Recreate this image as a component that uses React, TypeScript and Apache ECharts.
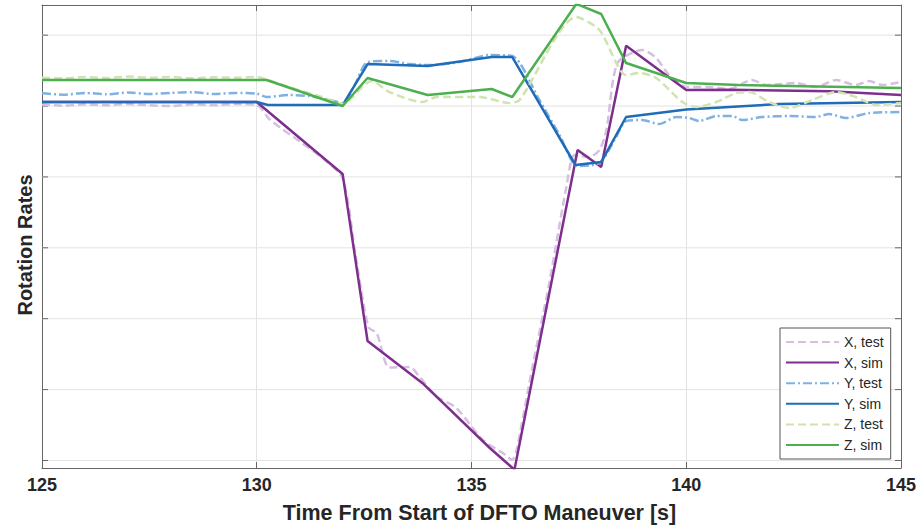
import React, { useEffect, useRef } from "react";
import * as echarts from "echarts";

// ---- data ----
const xMin = 125;
const xMax = 145;
const xInterval = 5;
const yMin = -51.06;
const yMax = 14.25;
const yGridValues = [-50, -40, -30, -20, -10, 0, 10];

const seriesNames = ["X, test", "X, sim", "Y, test", "Y, sim", "Z, test", "Z, sim"];

const xTest: number[][] = [
  [125, 0.2], [125.5, 0.05], [126, 0.25], [126.5, 0.1], [127, 0.3], [127.5, 0.1], [128, 0.0],
  [128.5, 0.25], [129, 0.1], [129.5, 0.3], [130, 0.15], [130.3, -1.9], [131, -5.0], [131.5, -7.2],
  [132, -10.2], [132.3, -21], [132.6, -31.2], [132.79, -32.0], [133.09, -36.9], [133.56, -36.8],
  [133.79, -38.2], [134.19, -41], [134.65, -42.6], [135.26, -47.1], [135.72, -48.9], [135.95, -49.9],
  [136.05, -48.5], [136.42, -36.8], [136.81, -25], [137.21, -11.4], [137.4, -6.9], [137.74, -7.2],
  [137.98, -6.2], [138.14, -3.4], [138.4, 6.06], [138.98, 7.9], [139.3, 6.77], [139.6, 4.37],
  [140, 2.68], [140.5, 2.7], [141.0, 2.4], [141.53, 3.67], [141.86, 2.96], [142.2, 3.1], [142.56, 3.24],
  [143.02, 2.68], [143.49, 3.67], [143.95, 2.96], [144.26, 3.53], [144.56, 2.96], [145, 3.39],
];

const xSim: number[][] = [
  [125, 0.56], [130, 0.56], [132.0, -9.6], [132.58, -33.15], [133.86, -39.1], [135.42, -48.2],
  [136.0, -51.3], [137.47, -6.2], [138.02, -8.6], [138.6, 8.5], [140.0, 2.26], [141.0, 2.3],
  [143.33, 2.1], [145, 1.55],
];

const yTest: number[][] = [
  [125, 1.8], [125.5, 1.6], [126, 1.85], [126.5, 1.65], [127, 1.9], [127.5, 1.7], [128, 1.85],
  [128.5, 1.95], [129, 1.7], [129.5, 1.85], [130, 1.75], [130.23, 1.27], [130.77, 1.55], [131.23, 1.4],
  [131.7, 0.85], [132, 0.42], [132.28, 2.96], [132.58, 6.2], [133.09, 6.35], [133.56, 5.92],
  [134.02, 5.78], [134.72, 6.2], [135.42, 7.19], [135.95, 7.05], [136.58, 0.85], [137.05, -4.1],
  [137.47, -8.46], [137.98, -8.04], [138.33, -4.8], [138.6, -2.12], [138.98, -1.97], [139.37, -2.54],
  [139.77, -1.55], [140.07, -1.69], [140.3, -2.12], [140.7, -1.41], [141.07, -1.41], [141.3, -1.97],
  [141.77, -1.55], [142.4, -1.41], [143.02, -1.55], [143.33, -1.13], [143.72, -1.69], [144.26, -0.99],
  [145, -0.85],
];

const ySim: number[][] = [
  [125, 0.56], [130, 0.56], [130.26, 0.14], [132.0, 0.14], [132.58, 5.92], [133.98, 5.64],
  [135.47, 6.91], [135.95, 6.91], [137.42, -8.32], [138.02, -7.9], [138.6, -1.55], [140.0, -0.5],
  [141.0, -0.14], [142.16, 0.28], [145, 0.56],
];

const zTest: number[][] = [
  [125, 4.0], [125.5, 3.9], [126, 4.1], [126.5, 3.95], [127, 4.15], [127.5, 4.0], [128, 4.1],
  [128.5, 3.9], [129, 4.05], [129.5, 4.0], [130, 4.1], [130.3, 3.6], [131, 2.2], [131.5, 1.3],
  [132, 0.3], [132.67, 3.53], [133.09, 1.97], [133.86, 0.56], [134.19, 1.27], [135.19, 1.27],
  [135.88, 0.42], [136.12, 0.85], [137.44, 12.55], [137.98, 10.72], [138.6, 4.37], [138.91, 4.65],
  [139.3, 3.95], [139.91, 0.56], [140.23, -0.14], [140.7, 0.56], [141.16, 1.83], [141.47, 1.97],
  [141.93, 0.56], [142.4, -0.28], [142.93, 0.85], [143.49, 1.97], [143.95, 1.27], [144.42, 0.14],
  [145, 0.42],
];

const zSim: number[][] = [
  [125, 3.67], [130.23, 3.67], [132.0, 0.0], [132.58, 3.95], [133.98, 1.55], [135.47, 2.4],
  [135.95, 1.27], [137.44, 14.4], [138.02, 12.98], [138.6, 6.06], [140.0, 3.24], [141.23, 2.96],
  [145, 2.54],
];

const seriesData = [xTest, xSim, yTest, ySim, zTest, zSim];
const seriesColors = ["#d6bfe0", "#7e2f8e", "#80b1e3", "#1f6cb9", "#cfe4ae", "#4daf50"];
const seriesDash: any[] = [[8, 4], "solid", [9, 3, 2, 3], "solid", [8, 4], "solid"];
const seriesSmooth = [0.25, false, 0.25, false, 0.25, false];

const FONT = "'Liberation Sans', Arial, sans-serif";
const AXIS_COLOR = "#666";
const GRID_COLOR = "#e3e3e3";

export default function App() {
  const ref = useRef<HTMLDivElement>(null);

  useEffect(() => {
    if (!ref.current) return;
    const chart = echarts.init(ref.current, null, { renderer: "svg" });

    const lineSeries = seriesNames.map((name, i) => ({
      name,
      type: "line",
      data: seriesData[i],
      xAxisIndex: 0,
      yAxisIndex: 0,
      showSymbol: false,
      symbol: "none",
      smooth: seriesSmooth[i],
      clip: true,
      z: 3,
      color: seriesColors[i],
      lineStyle: { color: seriesColors[i], width: 2.5, type: seriesDash[i] },
    }));

    const gridSeries = {
      type: "custom",
      silent: true,
      z: 1,
      xAxisIndex: 0,
      yAxisIndex: 0,
      data: yGridValues.map((v) => [xMin, v]),
      encode: { x: 0, y: 1 },
      renderItem: (_params: any, api: any) => {
        const v = api.value(1);
        const a = api.coord([xMin, v]);
        const b = api.coord([xMax, v]);
        return {
          type: "group",
          children: [
            {
              type: "line",
              shape: { x1: a[0], y1: a[1], x2: b[0], y2: b[1] },
              style: { stroke: GRID_COLOR, lineWidth: 1 },
            },
            {
              type: "line",
              shape: { x1: a[0], y1: a[1], x2: a[0] + 6, y2: a[1] },
              style: { stroke: AXIS_COLOR, lineWidth: 1 },
            },
            {
              type: "line",
              shape: { x1: b[0] - 6, y1: b[1], x2: b[0], y2: b[1] },
              style: { stroke: AXIS_COLOR, lineWidth: 1 },
            },
          ],
        };
      },
    };

    const option: any = {
      animation: false,
      backgroundColor: "#ffffff",
      textStyle: { fontFamily: FONT },
      grid: { left: 42, right: 17, top: 5, bottom: 61, containLabel: false },
      legend: {
        data: seriesNames,
        orient: "vertical",
        left: 780,
        top: 328,
        itemWidth: 53,
        itemHeight: 14,
        itemGap: 6.6,
        padding: [7, 7, 7, 5],
        backgroundColor: "#ffffff",
        borderColor: "#555",
        borderWidth: 1,
        borderRadius: 0,
        itemStyle: { opacity: 0, color: "transparent", borderWidth: 0 },
        textStyle: { fontSize: 14, color: "#262626", fontFamily: FONT },
      },
      graphic: [
        {
          type: "text",
          x: 25,
          y: 245,
          rotation: Math.PI / 2,
          silent: true,
          style: {
            text: "Rotation Rates",
            fontSize: 20,
            fontWeight: "bold",
            fontFamily: FONT,
            fill: "#262626",
            align: "center",
            verticalAlign: "middle",
          },
        },
      ],
      xAxis: [
        {
          type: "value",
          min: xMin,
          max: xMax,
          interval: xInterval,
          position: "bottom",
          name: "Time From Start of DFTO Maneuver [s]",
          nameLocation: "middle",
          nameGap: 34,
          nameTextStyle: {
            fontSize: 21.5,
            fontWeight: "bold",
            color: "#262626",
            fontFamily: FONT,
            padding: [0, 0, 0, 16],
          },
          axisLine: { show: true, onZero: false, lineStyle: { color: AXIS_COLOR, width: 1 } },
          axisTick: { show: true, inside: true, length: 6, lineStyle: { color: AXIS_COLOR } },
          axisLabel: { fontSize: 18, fontWeight: "bold", color: "#262626", margin: 8, fontFamily: FONT },
          splitLine: { show: true, lineStyle: { color: GRID_COLOR, width: 1 } },
        },
        {
          type: "value",
          min: xMin,
          max: xMax,
          interval: xInterval,
          position: "top",
          axisLine: { show: true, onZero: false, lineStyle: { color: AXIS_COLOR, width: 1 } },
          axisTick: { show: true, inside: true, length: 6, lineStyle: { color: AXIS_COLOR } },
          axisLabel: { show: false },
          splitLine: { show: false },
        },
      ],
      yAxis: [
        {
          type: "value",
          min: yMin,
          max: yMax,
          position: "left",
          axisLine: { show: true, onZero: false, lineStyle: { color: AXIS_COLOR, width: 1 } },
          axisTick: { show: false },
          axisLabel: { show: false },
          splitLine: { show: false },
        },
        {
          type: "value",
          min: yMin,
          max: yMax,
          position: "right",
          axisLine: { show: true, onZero: false, lineStyle: { color: AXIS_COLOR, width: 1 } },
          axisTick: { show: false },
          axisLabel: { show: false },
          splitLine: { show: false },
        },
      ],
      series: [gridSeries, ...lineSeries],
    };

    chart.setOption(option);
    return () => chart.dispose();
  }, []);

  return (
    <div
      ref={ref}
      style={{ position: "absolute", left: 0, top: 0, width: 919, height: 529 }}
    />
  );
}
